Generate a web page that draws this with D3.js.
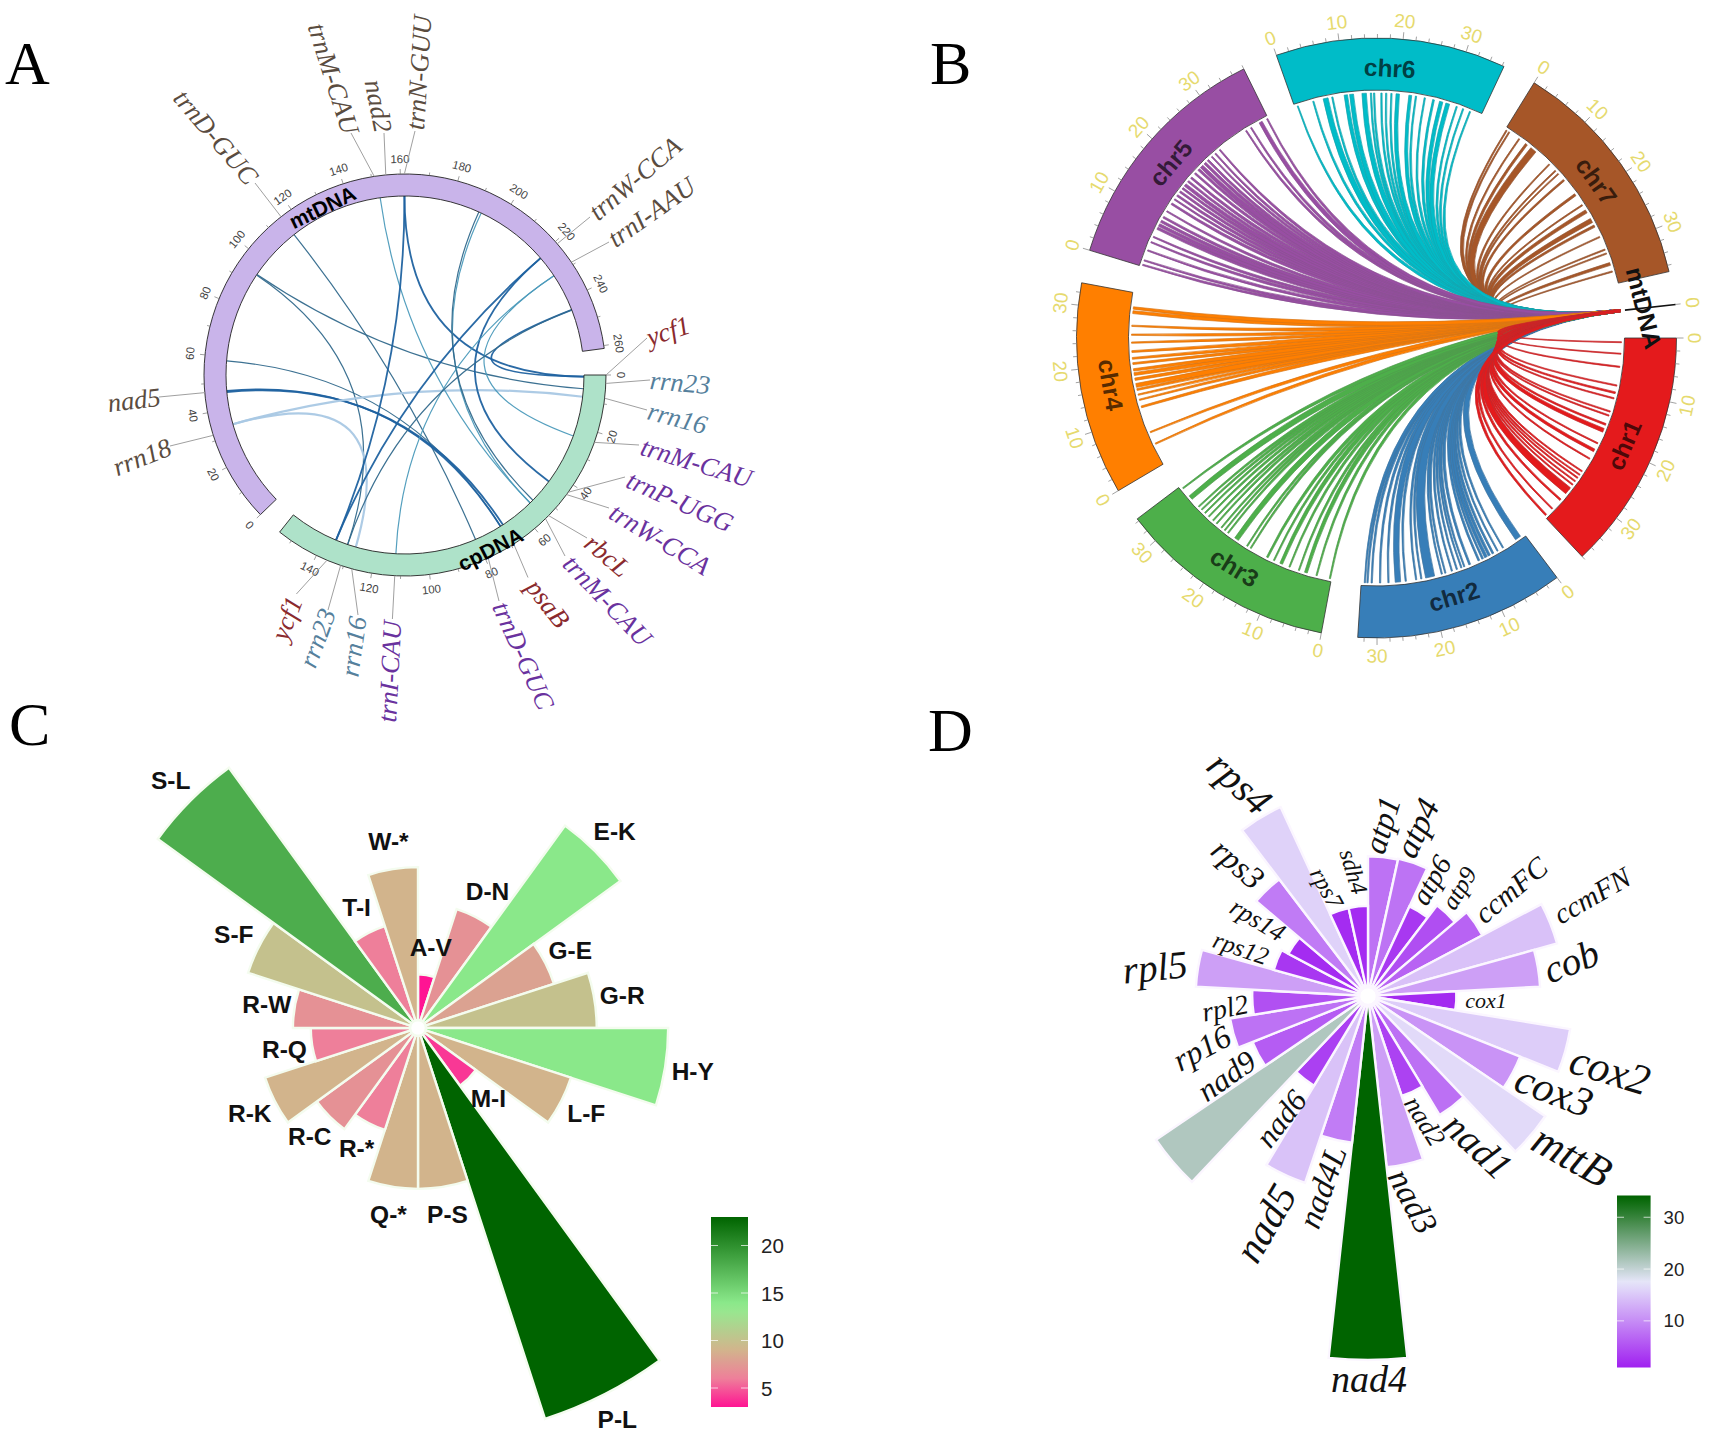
<!DOCTYPE html>
<html><head><meta charset="utf-8">
<script src="https://d3js.org/d3.v7.min.js"></script>
<style>html,body{margin:0;padding:0;background:#fff}svg{display:block}</style>
</head><body><svg id="c" width="1713" height="1439" viewBox="0 0 1713 1439"></svg>
<script>
// ---------- Panel A data ----------
const aSectors = ["mtDNA","cpDNA"];
const aSectorLengths = [261,155];
const aTickMax = [260,140];
// gene, sector, position on sector
const aGeneNames = ["trnD-GUC","trnM-CAU","nad2","trnN-GUU","trnW-CCA","trnI-AAU","nad5","rrn18","ycf1","rrn23","rrn16","trnM-CAU","trnP-UGG","trnW-CCA","rbcL","trnM-CAU","psaB","trnD-GUC","trnI-CAU","rrn16","rrn23","ycf1"];
const aGeneSector = [0,0,0,0,0,0,0,0,1,1,1,1,1,1,1,1,1,1,1,1,1,1];
const aGenePos = [115.7,151,155,161.4,221,229,47,32,0,2.9,8,23.6,43,44,53.5,55,69,79,112,127,131,136];
const aGeneKind = ["m","m","m","m","m","m","m","m","r","b","b","p","p","p","r","p","r","p","p","b","b","r"];
// mt position, cp position, strength class
const aLinkMt = [115.4,94.3,94,58.5,46.9,46.5,33.8,33.8,152,161.4,161.4,192,191,221,221,229.5,229.5,244.4,244.4];
const aLinkCp = [80.5,5.3,131,69.6,69.6,68.5,8.4,127.7,55,135.8,0.6,55,53.5,44,135.8,24,112,0.6,131];
const aLinkClass = [1,1,1,1,0,0,3,3,2,0,0,2,1,0,0,2,2,0,1];

// ---------- Panel B data ----------
const chrNames = ["chr1","chr2","chr3","chr4","chr5","chr6","chr7"];
const chrLengths = [38,33,34.4,33.5,38,36.3,37];
const linksChr1 = [[.8,.25],[3,.25],[5.5,.3],[9.1,.3],[10.5,.4],[11.6,.3],[14.2,.3],[15,.3],[16.8,.4],[18,.8],[20.7,.3],[22.2,.6],[24,.3],[26.8,.3],[27.6,.3],[28.3,.3],[29.1,.3],[29.9,.3],[30.8,.4],[31.5,1.2],[33.6,.4],[35.9,.3],[37.6,.4]];
const linksChr2 = [[1.4,1.2],[4.8,.3],[6,.3],[7,.4],[7.8,.5],[8.5,.6],[9.2,.4],[10,.4],[11.9,.4],[13,.3],[13.6,.3],[14.5,.3],[15.5,.3],[16.8,.3],[17.5,.3],[19.8,1.8],[21.5,.3],[22.5,.3],[24.5,.3],[26,1.1],[27.8,.3],[29.4,.3],[31,.3],[31.8,.3],[32.3,.3]];
const linksChr3 = [[.3,.3],[2.9,.3],[5,.6],[6.4,.3],[8.3,.3],[10,.6],[11.5,.3],[12.9,.4],[16.5,.3],[17.3,.3],[19.7,.9],[21.7,.3],[22.5,.3],[23.3,.3],[24.5,.3],[25.4,.3],[26.5,.3],[27.5,.3],[28.4,.3],[29.2,.3],[31.5,.9],[33.8,.3]];
const linksChr4 = [[4.1,.3],[6.5,.3],[11.6,.4],[13,.3],[14,.3],[15,.4],[15.8,.8],[17,.5],[18,.6],[18.8,.5],[20,.4],[21,.4],[22.3,.4],[24,.3],[25.5,.3],[27.2,.3],[29.8,.6],[30.6,.5]];
const linksChr5 = [[.3,.3],[1.2,.3],[3.2,.3],[4.9,.3],[6,.3],[7.8,.5],[8.5,.6],[9.3,.5],[10.2,.4],[11.5,.3],[13.2,.4],[14.2,.3],[15.1,.4],[16,.4],[16.8,.4],[17.6,.6],[18.5,.4],[19.4,.4],[20.5,.4],[21.5,.5],[22.3,.7],[23.2,.5],[24,.4],[25,.3],[25.9,.3],[27,.3],[33.2,.3],[34.3,.3],[36.4,.7],[37.8,.3]];
const linksChr6 = [[.6,.25],[3.7,.3],[6.1,1],[7.4,.3],[10,.7],[11.1,.8],[13.5,.9],[14.8,.3],[15.4,.3],[16.8,.3],[17.7,.3],[18.7,.3],[19.9,.7],[22.3,.6],[23.4,.3],[25.1,.3],[26.8,.4],[28.3,.7],[29.6,.8],[31.4,.3],[32.7,.3],[34.1,.3]];
const linksChr7 = [[.3,.3],[.9,.3],[3.2,.3],[4.9,.5],[6.6,1.3],[10.7,.3],[12.4,.3],[13.2,.3],[14.8,.4],[18.3,.5],[20.7,.3],[22.1,.7],[24.1,.9],[25.3,.5],[27.6,.3],[30.2,.3],[31,.3],[33.1,.6],[34.6,.3]];

// ---------- Panel C data ----------
const cCategories = ["A-V","D-N","E-K","G-E","G-R","H-Y","L-F","M-I","P-L","P-S","Q-*","R-*","R-C","R-K","R-Q","R-W","S-F","S-L","T-I","W-*"];
const cValues = [3,7,14,8,10,14,9,4,23,9,9,6,7,9,6,7,10,18,6,9];
const cLegendTicks = [5,10,15,20];

// ---------- Panel D data ----------
const dCategories = ["atp1","atp4","atp6","atp9","ccmFC","ccmFN","cob","cox1","cox2","cox3","mttB","nad1","nad2","nad3","nad4","nad4L","nad5","nad6","","nad9","rp16","rpl2","rpl5","rps12","rps14","rps3","rps4","rps7","sdh4"];
const dValues = [7.8,7.9,3,4.8,6.6,14.4,11.6,1.8,15.4,10.6,16.5,7.7,3.8,11.6,34,8.7,14.5,3.7,21.4,6,7.8,5,11.6,2.9,2,8.6,15.8,2,2];
const dLegendTicks = [10,20,30];

// ---------- layout (not data) ----------
const aLabelEnds = [[-150,-192,-228,-284],[-54,-242,-89,-351],[-21,-242,-32,-296],[10,-244,17.5,-361],[185,-158,275,-235],[204,-133,289,-193],[-246,22,-296,28],[-235,71,-291,93],[242,-37,284,-51],[245,5,305,10],[242,35,303,51],[234,70,349,105],[220,102,330,151],[204,133,306,195],[182,163,223,198],[160,181,245,270],[123,202.5,163,254],[94,226,143,335],[-12.6,244,-18,349],[-47,240,-56,303],[-77,235,-98,291],[-108.6,219,-128,268]];
const aKindColor = {m:"#5a4c40",r:"#8a2a2e",b:"#55809c",p:"#6a329e"};
const aLinkStyle = [{c:"#1f62a0",w:1.8},{c:"#32698c",w:1.2},{c:"#4b9abb",w:1.2},{c:"#a9c8e4",w:2.2}];
const chrStartAngles = [90,143,190.6,239.4,287,340.5,31.7];
const chrColors = ["#e41a1c","#377eb8","#4daf4a","#ff7f00","#984ea3","#00bcc8","#a65628"];
const chrLinkOrder = [6,5,4,1,2,3,0];
const linkSets = [linksChr1,linksChr2,linksChr3,linksChr4,linksChr5,linksChr6,linksChr7];
// D text: dx, dy from centre, rotation, font size
const dLabelLayout = [[14,-171,-73,32.5],[49,-168,-65,34],[63,-116,-60,29],[91,-108,-59,25],[143,-106,-40,29.5],[224,-100.5,-30,29],[203,-35,-22,39],[118,4.6,0,22],[242,74,17,43],[186,95,21,42],[204,160,29,44],[110,150,43,38.7],[57,125,58,26.5],[45,205,62,34],[1,383,0,38],[-45.5,191,-70,33],[-102.5,227,-60,41],[-87,122.6,-52,31],null,[-141.4,80,-35,31.5],[-166.3,52,-28,32],[-143,12,-11,28],[-213,-29,-6,39],[-127,-48,19,25],[-110.3,-76,31,26],[-130,-132,41,32.6],[-128.4,-213,43,40],[-41.4,-108,61,24],[-14.4,-124.4,73,24]];

const rad = d => d*Math.PI/180;
const P = (a,r) => [r*Math.sin(rad(a)), -r*Math.cos(rad(a))];
const svg = d3.select("#c");
svg.append("rect").attr("width",1713).attr("height",1439).attr("fill","#fff");
const SANS = "'Liberation Sans',Arial,sans-serif", SERIF = "'Liberation Serif','Times New Roman',serif";

[["A",5,84],["B",930,84],["C",9,745],["D",928,751]].forEach(([t,x,y]) =>
  svg.append("text").attr("x",x).attr("y",y).attr("font-family",SERIF).attr("font-size",62).attr("fill","#000").text(t));

// tangent rotation with flip on lower half
const tangentRot = a => { a=((a%360)+360)%360; return (a>90.01&&a<270)? a-180 : (a>=270? a-360 : a); };

// ===== Panel A =====
(function(){
  const g = svg.append("g").attr("transform","translate(405,375)");
  const R=201, r=179;
  const scales=[d3.scaleLinear([0,aSectorLengths[0]],[226,442.4]), d3.scaleLinear([0,aSectorLengths[1]],[90,218.6])];
  const fills=["#c9b4ea","#aee2c9"];
  const arc=d3.arc().innerRadius(r).outerRadius(R);
  // links
  aLinkMt.forEach((m,i)=>{
    const p0=P(scales[0](m),r), p1=P(scales[1](aLinkCp[i]),r), st=aLinkStyle[aLinkClass[i]];
    const path=d3.path(); path.moveTo(p0[0],p0[1]); path.quadraticCurveTo(0,0,p1[0],p1[1]);
    g.append("path").attr("d",path.toString()).attr("fill","none").attr("stroke",st.c).attr("stroke-width",st.w).attr("opacity",.95);
  });
  aSectors.forEach((s,i)=>{
    const sc=scales[i], d=sc.domain(), ra=sc.range();
    g.append("path").attr("d",arc({startAngle:rad(ra[0]),endAngle:rad(ra[1])})).attr("fill",fills[i]).attr("stroke","#222").attr("stroke-width",.9);
    d3.range(0,d[1]+.01,10).forEach(v=>{
      const maj=v%20===0, a=sc(v), p=P(a,R), q=P(a,R+(maj?5:3));
      g.append("line").attr("x1",p[0]).attr("y1",p[1]).attr("x2",q[0]).attr("y2",q[1]).attr("stroke","#777").attr("stroke-width",.7);
      if(maj && v<=aTickMax[i]){
        const t=P(a,216);
        g.append("text").attr("transform",`translate(${t[0]},${t[1]}) rotate(${tangentRot(a)})`).attr("text-anchor","middle").attr("dominant-baseline","central")
         .attr("font-family",SANS).attr("font-size",11.5).attr("fill","#444").text(v);
      }
    });
  });
  // gene labels
  aGeneNames.forEach((n,i)=>{
    const a=scales[aGeneSector[i]](aGenePos[i]), p=P(a,R), e=aLabelEnds[i], col=aKindColor[aGeneKind[i]];
    g.append("line").attr("x1",p[0]).attr("y1",p[1]).attr("x2",e[0]).attr("y2",e[1]).attr("stroke","#a0a0a0").attr("stroke-width",1);
    const right=e[2]>e[0];
    const rot= right? Math.atan2(e[3]-e[1],e[2]-e[0]) : Math.atan2(e[1]-e[3],e[0]-e[2]);
    g.append("text").attr("transform",`translate(${(e[0]+e[2])/2},${(e[1]+e[3])/2}) rotate(${rot*180/Math.PI})`)
     .attr("text-anchor","middle").attr("dominant-baseline","central").attr("font-family",SERIF).attr("font-style","italic").attr("font-size",26.5).attr("fill",col).text(n);
  });
  const lab=[[0,130,187,-26],[1,77,194,-27]];
  lab.forEach(([i,u,rr,rot])=>{
    const t=P(scales[i](u),rr);
    g.append("text").attr("transform",`translate(${t[0]},${t[1]}) rotate(${rot})`).attr("text-anchor","middle").attr("dominant-baseline","central")
     .attr("font-family",SANS).attr("font-weight","bold").attr("font-size",21).attr("fill","#000").text(aSectors[i]);
  });
})();

// ===== Panel B =====
(function(){
  const g=svg.append("g").attr("transform","translate(1376.5,338)");
  const R=300,r=248,rl=245,unit=1.23, mtA=83.6, mtHalf=.25, edgeW=.7, pxPerUnit=5.3, belly=3;
  const scales=chrNames.map((n,i)=>d3.scaleLinear([0,chrLengths[i]],[chrStartAngles[i],chrStartAngles[i]+chrLengths[i]*unit]));
  chrLinkOrder.forEach(i=>{
    const col=chrColors[i], edge=d3.interpolateRgb(col,"#5a5a5a")(.25);
    linkSets[i].forEach(([pos,w])=>{
      const hw=Math.max(w*pxPerUnit-edgeW+.4,.3)/pxPerUnit/2;
      const a=P(scales[i](pos-hw),rl), b=P(scales[i](pos+hw),rl), m0=P(mtA-mtHalf,rl), m1=P(mtA+mtHalf,rl);
      // the ribbon keeps its body away from the two ends: its edges use two separate control points
      const cx=(m0[0]+m1[0])/2-(a[0]+b[0])/2, cy=(m0[1]+m1[1])/2-(a[1]+b[1])/2, L=Math.hypot(cx,cy);
      const k=(belly+w*pxPerUnit*.8)/2, nx=-cy/L*k, ny=cx/L*k;
      // decide which normal side belongs to edge a
      const side=((a[0]-b[0])*nx+(a[1]-b[1])*ny)>0?1:-1;
      const p=d3.path(); p.moveTo(a[0],a[1]); 
      // edge a ends on the mt end nearest to it
      const aToM0=Math.hypot(a[0]-m0[0],a[1]-m0[1])+Math.hypot(b[0]-m1[0],b[1]-m1[1]);
      const aToM1=Math.hypot(a[0]-m1[0],a[1]-m1[1])+Math.hypot(b[0]-m0[0],b[1]-m0[1]);
      const ma=aToM0<=aToM1?m0:m1, mb=aToM0<=aToM1?m1:m0;
      p.quadraticCurveTo(side*nx,side*ny,ma[0],ma[1]); p.lineTo(mb[0],mb[1]); p.quadraticCurveTo(-side*nx,-side*ny,b[0],b[1]); p.closePath();
      g.append("path").attr("d",p.toString()).attr("fill",col).attr("stroke",edge).attr("stroke-width",edgeW).attr("stroke-linejoin","bevel");
    });
  });
  const arc=d3.arc().innerRadius(r).outerRadius(R);
  chrNames.forEach((n,i)=>{
    const sc=scales[i], ra=sc.range();
    g.append("path").attr("d",arc({startAngle:rad(ra[0]),endAngle:rad(ra[1])})).attr("fill",chrColors[i]).attr("stroke","#333").attr("stroke-width",.8);
    d3.range(0,chrLengths[i]+.01,2).forEach(v=>{
      const maj=v%10===0,a=sc(v),p=P(a,R),q=P(a,R+(maj?7:4));
      g.append("line").attr("x1",p[0]).attr("y1",p[1]).attr("x2",q[0]).attr("y2",q[1]).attr("stroke","#8a8a8a").attr("stroke-width",.8);
      if(maj){
        const t=P(a,318);
        g.append("text").attr("transform",`translate(${t[0]},${t[1]}) rotate(${tangentRot(a)})`).attr("text-anchor","middle").attr("dominant-baseline","central")
         .attr("font-family",SANS).attr("font-size",19).attr("fill","#e6da6e").text(v);
      }
    });
    const ma=(ra[0]+ra[1])/2, t=P(ma,270);
    g.append("text").attr("transform",`translate(${t[0]},${t[1]}) rotate(${tangentRot(ma)})`).attr("text-anchor","middle").attr("dominant-baseline","central")
     .attr("font-family",SANS).attr("font-weight","bold").attr("font-size",24.5).attr("fill","#000").attr("fill-opacity",.68).text(n);
  });
  // mtDNA sector: a very thin one
  const a0=P(mtA,250), a1=P(mtA,301), a2=P(mtA,306), a3=P(mtA,318);
  g.append("line").attr("x1",a0[0]).attr("y1",a0[1]).attr("x2",a1[0]).attr("y2",a1[1]).attr("stroke","#111").attr("stroke-width",1.6);
  g.append("line").attr("x1",a1[0]).attr("y1",a1[1]).attr("x2",a2[0]).attr("y2",a2[1]).attr("stroke","#8a8a8a").attr("stroke-width",.8);
  g.append("text").attr("transform",`translate(${a3[0]},${a3[1]}) rotate(${mtA})`).attr("text-anchor","middle").attr("dominant-baseline","central").attr("font-family",SANS).attr("font-size",19).attr("fill","#e6da6e").text(0);
  const tl=P(mtA,269);
  g.append("text").attr("transform",`translate(${tl[0]},${tl[1]}) rotate(76)`).attr("text-anchor","middle").attr("dominant-baseline","central")
   .attr("font-family",SANS).attr("font-weight","bold").attr("font-size",24.5).attr("fill","#111").text("mtDNA");
})();

// colour bar helper
function colorbar(id,color,domain,x,y0,y1,w,ticks,fs){
  const defs=svg.append("defs"), gr=defs.append("linearGradient").attr("id",id).attr("x1",0).attr("x2",0).attr("y1",1).attr("y2",0);
  d3.range(0,1.001,.05).forEach(t=>gr.append("stop").attr("offset",t).attr("stop-color",color(domain[0]+t*(domain[1]-domain[0]))));
  svg.append("rect").attr("x",x).attr("y",y0).attr("width",w).attr("height",y1-y0).attr("fill",`url(#${id})`);
  const sc=d3.scaleLinear(domain,[y1,y0]);
  ticks.forEach(v=>{
    svg.append("line").attr("x1",x).attr("x2",x+7).attr("y1",sc(v)).attr("y2",sc(v)).attr("stroke","#fff").attr("stroke-opacity",.7);
    svg.append("line").attr("x1",x+w-7).attr("x2",x+w).attr("y1",sc(v)).attr("y2",sc(v)).attr("stroke","#fff").attr("stroke-opacity",.7);
    svg.append("text").attr("x",x+w+13).attr("y",sc(v)).attr("dominant-baseline","central").attr("font-family",SANS).attr("font-size",fs).attr("fill","#222").text(v);
  });
}

// ===== Panel C =====
(function(){
  const g=svg.append("g").attr("transform","translate(418,1028)");
  const rS=d3.scaleLinear([0,23],[0,411]);
  const col=d3.scaleLinear([3,6,9,13.6,23],["#ff1493","#ee7f9a","#d2b48c","#90ee90","#006400"]).interpolate(d3.interpolateRgb);
  const band=d3.scaleBand(cCategories,[0,360]);
  const arc=d3.arc().innerRadius(8);
  cCategories.forEach((c,i)=>{
    const a=band(c), w=band.bandwidth(), v=cValues[i];
    g.append("path").attr("d",arc({outerRadius:rS(v),startAngle:rad(a),endAngle:rad(a+w)})).attr("fill",col(v)).attr("stroke","#f4fcef").attr("stroke-width",2.4);
  });
  cCategories.forEach((c,i)=>{
    const a=band(c)+band.bandwidth()/2, p=P(a,rS(cValues[i])+28);
    g.append("text").attr("x",p[0]).attr("y",p[1]).attr("text-anchor","middle").attr("dominant-baseline","central")
     .attr("font-family",SANS).attr("font-weight","bold").attr("font-size",24.5).attr("fill","#111").text(c);
  });
  colorbar("gc",col,[3,23],711,1217,1407,37,cLegendTicks,20.5);
})();

// ===== Panel D =====
(function(){
  const g=svg.append("g").attr("transform","translate(1368,996)");
  const rS=d3.scaleLinear([0,34],[73,364]);
  const col=d3.scaleLinear([1,17.5,34],["#a020f0","#e6e6fa","#006400"]).interpolate(d3.interpolateRgb);
  const band=d3.scaleBand(d3.range(dCategories.length),[0,360]);
  const arc=d3.arc().innerRadius(9);
  dValues.forEach((v,i)=>{
    const a=band(i), w=band.bandwidth();
    g.append("path").attr("d",arc({outerRadius:rS(v),startAngle:rad(a),endAngle:rad(a+w)})).attr("fill",col(v)).attr("stroke","#fbf6ff").attr("stroke-width",2.4);
  });
  dCategories.forEach((c,i)=>{
    const l=dLabelLayout[i]; if(!l||!c) return;
    g.append("text").attr("transform",`translate(${l[0]},${l[1]}) rotate(${l[2]})`).attr("text-anchor","middle").attr("dominant-baseline","central")
     .attr("font-family",SERIF).attr("font-style","italic").attr("font-size",l[3]).attr("fill","#111").text(c);
  });
  colorbar("gd",col,[1,34.2],1617,1195.5,1367.5,33.6,dLegendTicks,18.6);
})();
</script></body></html>
